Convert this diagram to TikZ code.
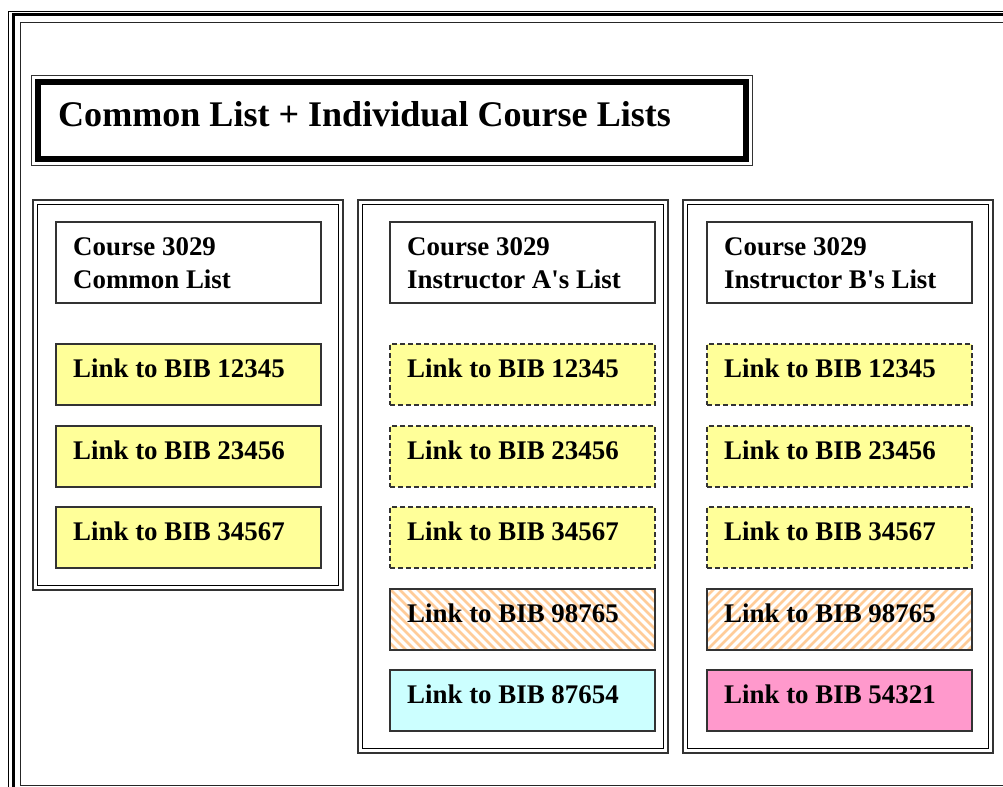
\documentclass[tikz,border=0pt]{standalone}
\usepackage{fontspec}
\newfontfamily\serifb{Liberation Serif}
\usetikzlibrary{calc,backgrounds}
\definecolor{yel}{HTML}{FFFF99}
\definecolor{cya}{HTML}{CCFFFF}
\definecolor{pnk}{HTML}{FF99CC}
\definecolor{org}{HTML}{FFCC99}
\definecolor{edge}{HTML}{333333}
\begin{document}
\begin{tikzpicture}[x=1bp,y=-1bp,
  box/.style={draw=edge, line width=1.3bp, minimum width=265bp, minimum height=61bp, anchor=north west, inner sep=0pt, outer sep=0pt},
  headbox/.style={box, minimum height=81bp, fill=white},
  solidbox/.style={box, fill=yel},
  dashbox/.style={box, fill=yel, dash pattern=on 5bp off 3bp},
  hatchbox/.style={box},
  colbox/.style={draw=edge, line width=2bp, minimum width=310bp, anchor=north west, inner sep=0pt, outer sep=0pt},
  colinner/.style={draw=black, line width=1.5bp},
  linktext/.style={anchor=base west, inner sep=0pt, font=\serifb\fontsize{27}{33}\selectfont\bfseries},
  headtext/.style={linktext, align=left},
  stripe/.style={draw=org, line width=2.6bp}
]
\useasboundingbox (0,0) rectangle (1003,787);
\clip (0,0) rectangle (1003,787);
% outer frame
\draw[black, line width=1bp] (8.5,11.5) rectangle (1040,820);
\draw[black, line width=3bp] (13,14.5) rectangle (1035,815);
\draw[black!85, line width=1.5bp] (20.5,22.5) rectangle (1020,785.5);

% title
\node[draw=edge, line width=1bp, minimum width=721bp, minimum height=90bp, anchor=north west, inner sep=0pt] (ttl) at (31,75) {};
\draw[black, line width=5.5bp] ($(ttl.north west)+(7,7)$) rectangle ($(ttl.south east)+(-7,-7)$);
\node[anchor=base west, inner sep=0pt, font=\serifb\fontsize{36.2}{40}\selectfont\bfseries] (ttlt) at (58,126) {Common List + Individual Course Lists};

% columns
\node[colbox, minimum height=390bp] (col1) at (33,200) {};
\node[colbox, minimum height=553bp] (col2) at (358,200) {};
\node[colbox, minimum height=553bp] (col3) at (683,200) {};
\foreach \c in {col1,col2,col3}
  \draw[colinner] ($(\c.north west)+(4.5,4.5)$) rectangle ($(\c.south east)+(-4.5,-4.5)$);

% headers
\node[headbox] (h1) at (56,222) {};
\node[headtext] (h1t) at ($(h1.north west)+(17,66)$) {Course 3029\\Common List};
\node[headbox] (h2) at (390,222) {};
\node[headtext] (h2t) at ($(h2.north west)+(17,66)$) {Course 3029\\Instructor A's List};
\node[headbox] (h3) at (707,222) {};
\node[headtext] (h3t) at ($(h3.north west)+(17,66)$) {Course 3029\\Instructor B's List};

% column 1
\node[solidbox] (c1) at (56,344) {};
\node[solidbox] (c2) at (56,426) {};
\node[solidbox] (c3) at (56,507) {};
% column 2
\node[dashbox] (a1) at (390,344) {};
\node[dashbox] (a2) at (390,426) {};
\node[dashbox] (a3) at (390,507) {};
\node[hatchbox] (a4) at (390,589) {};
\node[box, fill=cya] (a5) at (390,670) {};
% column 3
\node[dashbox] (b1) at (707,344) {};
\node[dashbox] (b2) at (707,426) {};
\node[dashbox] (b3) at (707,507) {};
\node[hatchbox] (b4) at (707,589) {};
\node[box, fill=pnk] (b5) at (707,670) {};

\begin{pgfonlayer}{background}
  \begin{scope}
    \clip (a4.north west) rectangle (a4.south east);
    \foreach \i in {-72,-63,...,280}
      \draw[stripe] ($(a4.north west)+(\i,0)$) -- ++(66,66);
  \end{scope}
  \begin{scope}
    \clip (b4.north west) rectangle (b4.south east);
    \foreach \i in {-72,-63,...,280}
      \draw[stripe] ($(b4.south west)+(\i,0)$) -- ++(66,-66);
  \end{scope}
\end{pgfonlayer}

\node[linktext] (c1t) at ($(c1.north west)+(17,33)$) {Link to BIB 12345};
\node[linktext] (c2t) at ($(c2.north west)+(17,33)$) {Link to BIB 23456};
\node[linktext] (c3t) at ($(c3.north west)+(17,33)$) {Link to BIB 34567};
\node[linktext] (a1t) at ($(a1.north west)+(17,33)$) {Link to BIB 12345};
\node[linktext] (a2t) at ($(a2.north west)+(17,33)$) {Link to BIB 23456};
\node[linktext] (a3t) at ($(a3.north west)+(17,33)$) {Link to BIB 34567};
\node[linktext] (a4t) at ($(a4.north west)+(17,33)$) {Link to BIB 98765};
\node[linktext] (a5t) at ($(a5.north west)+(17,33)$) {Link to BIB 87654};
\node[linktext] (b1t) at ($(b1.north west)+(17,33)$) {Link to BIB 12345};
\node[linktext] (b2t) at ($(b2.north west)+(17,33)$) {Link to BIB 23456};
\node[linktext] (b3t) at ($(b3.north west)+(17,33)$) {Link to BIB 34567};
\node[linktext] (b4t) at ($(b4.north west)+(17,33)$) {Link to BIB 98765};
\node[linktext] (b5t) at ($(b5.north west)+(17,33)$) {Link to BIB 54321};
\end{tikzpicture}
\end{document}
